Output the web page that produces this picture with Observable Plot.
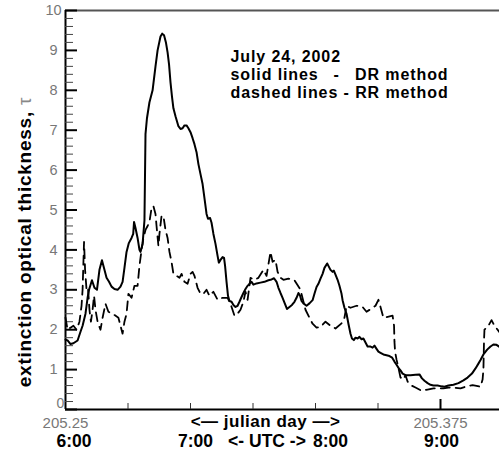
<!DOCTYPE html>
<html><head><meta charset="utf-8">
<script src="https://cdn.jsdelivr.net/npm/d3@7"></script>
<script src="https://cdn.jsdelivr.net/npm/@observablehq/plot@0.6"></script>
<style>body{margin:0;background:#fff} svg{display:block}</style>
</head><body><div id="chart"></div>
<script>
// time in minutes after 06:00 UTC (julian day 205.25), tau = extinction optical thickness
const drTime = [0,1.0,2.4,3.8,5.8,7.2,8.2,9.6,10.6,11.3,12.7,13.9,15.1,16.3,17.5,18.7,19.7,20.9,22.1,23.5,25.0,26.4,27.4,28.3,29.3,30.4,31.7,32.5,32.9,33.6,34.6,35.5,36.0,37.0,37.9,38.4,39.1,40.3,41.8,43.2,44.2,45.6,46.4,47.3,48.2,49.0,49.7,50.4,51.1,51.8,52.8,54.2,55.2,56.2,57.1,58.1,59.0,60.0,61.0,61.9,62.9,63.8,64.8,65.8,66.7,67.7,68.4,69.4,70.1,71.0,72.0,73.0,73.6,74.4,75.4,76.1,76.6,77.3,78.0,78.7,79.7,80.6,81.6,82.6,83.5,84.5,85.4,86.4,87.4,88.3,89.3,90.2,91.7,93.6,95.5,97.4,98.9,100.1,101.3,102.2,103.2,104.2,105.1,106.3,107.5,108.7,109.9,110.9,111.8,112.6,113.3,114.2,115.7,117.1,118.6,119.5,120.5,121.4,122.4,123.4,124.3,125.6,126.2,127.2,128.2,128.8,129.6,130.6,131.5,132.5,133.0,133.9,134.9,135.8,136.8,137.5,138.4,139.2,140.2,141.1,142.1,143.0,144.0,145.0,146.2,147.4,148.3,149.3,150.2,151.2,152.6,154.1,155.5,156.8,157.9,158.9,160.0,160.8,161.8,163.2,165.6,168.0,169.9,171.1,172.3,173.8,175.2,176.6,178.6,180.5,181.9,183.8,186.2,188.6,191.0,193.0,195.1,196.8,198.2,199.2,200.6,202.4,204.0,205.4,206.9,208.3];
const drTau = [1.75,1.73,1.64,1.66,1.73,1.95,2.1,2.4,2.8,3.0,3.24,3.05,3.0,3.5,3.74,3.5,3.3,3.2,3.08,3.02,3.0,3.08,3.2,3.55,3.95,4.17,4.3,4.4,4.7,4.55,4.3,4.0,3.95,4.15,4.74,6.9,7.3,7.7,8.0,8.6,9.0,9.35,9.42,9.38,9.2,8.95,8.65,8.2,7.85,7.55,7.35,7.1,7.03,7.05,7.12,7.12,7.05,6.95,6.8,6.65,6.45,6.15,5.9,5.65,5.3,4.9,4.78,4.8,4.68,4.4,4.15,3.85,3.68,3.75,3.82,3.8,3.6,3.2,2.85,2.72,2.7,2.62,2.57,2.6,2.7,2.82,2.92,3.02,3.1,3.15,3.2,3.13,3.16,3.18,3.2,3.24,3.26,3.29,3.2,3.05,2.92,2.8,2.68,2.52,2.57,2.62,2.7,2.8,2.92,2.85,2.72,2.66,2.6,2.66,2.74,2.9,3.07,3.15,3.28,3.4,3.55,3.66,3.6,3.5,3.45,3.48,3.38,3.25,3.1,2.9,2.74,2.55,2.4,2.15,1.9,1.78,1.74,1.8,1.78,1.82,1.76,1.78,1.68,1.58,1.58,1.55,1.6,1.52,1.45,1.42,1.38,1.36,1.34,1.3,1.2,1.12,1.03,0.98,0.9,0.86,0.86,0.87,0.88,0.78,0.72,0.66,0.62,0.6,0.6,0.58,0.57,0.6,0.62,0.66,0.73,0.8,0.9,1.03,1.15,1.24,1.38,1.5,1.58,1.63,1.62,1.57];
const rrTime = [0,1.0,2.4,3.8,5.3,6.7,7.7,8.2,8.9,9.4,10.1,10.8,11.5,12.2,13.0,13.7,14.4,15.4,16.8,17.8,19.2,20.6,22.6,25.4,26.9,27.4,28.3,29.3,30.2,31.7,33.1,34.6,35.5,36.5,37.4,38.4,39.4,40.3,41.3,42.2,43.2,43.7,44.6,45.1,46.1,47.0,48.0,49.0,49.9,50.9,51.8,53.3,54.7,55.7,57.1,58.6,60.0,61.0,61.9,63.4,64.8,66.2,67.7,69.1,71.0,73.0,75.4,77.8,79.2,81.1,82.6,84.0,85.4,86.4,87.4,88.8,90.7,92.6,95.0,96.5,98.4,99.4,100.8,101.8,103.2,104.6,107.0,109.9,112.8,115.2,117.1,118.6,120.5,122.4,124.8,127.2,129.6,132.5,133.9,134.9,136.8,139.7,142.6,144.5,146.9,148.8,150.2,151.2,152.6,157.0,157.7,157.9,158.2,158.9,159.8,160.8,162.2,163.2,164.2,166.1,168.0,170.9,173.8,176.6,181.4,183.8,186.2,189.6,192.5,195.4,199.2,200.2,200.6,200.9,201.1,203.0,204.5,205.9,208.3];
const rrTau = [2.3,2.0,2.05,2.1,2.0,2.2,2.6,3.0,4.2,3.5,3.0,3.05,2.5,2.2,2.5,2.85,2.5,2.2,2.0,2.3,2.65,2.45,2.4,2.3,2.0,1.9,2.2,2.4,2.9,2.8,3.1,3.1,3.6,4.0,4.3,4.5,4.6,4.7,5.05,5.1,4.9,4.6,4.1,4.4,4.85,4.85,4.5,4.3,3.95,3.7,3.4,3.35,3.3,3.4,3.2,3.15,3.4,3.45,3.35,3.05,2.9,2.9,3.0,2.85,2.95,2.75,2.8,2.8,2.65,2.35,2.4,2.5,2.7,2.95,2.75,3.3,3.25,3.3,3.5,3.35,3.95,3.7,3.75,3.45,3.3,3.25,3.28,3.24,3.0,2.5,2.3,2.15,2.05,2.07,2.2,2.1,2.03,2.16,2.3,2.6,2.55,2.6,2.57,2.45,2.53,2.6,2.75,2.57,2.3,2.35,2.1,1.7,1.45,1.25,1.05,0.8,0.75,0.86,0.7,0.6,0.55,0.47,0.5,0.53,0.53,0.55,0.55,0.53,0.58,0.61,0.57,0.75,1.0,1.75,2.0,2.1,2.24,2.1,1.94];

const yMajor = [1,2,3,4,5,6,7,8,9,10];
const yZero = [0];
const yMinor = d3.range(0, 10.001, 0.2).filter(v => Math.abs(v - Math.round(v)) > 0.01);
const xMinor = [30, 60, 90, 120, 150];
const xMajor = [180];
const dayTicks = [0, 180];
const dayLabels = ["205.25", "205.375"];
const utcLabels = ["6:00", "7:00", "8:00", "9:00"];
const noteDate = ["July 24, 2002"];
const noteSolid = ["solid lines", "-", "DR method"];
const noteDashed = ["dashed lines - RR method"];

const dr = drTime.map((t, i) => ({t, tau: drTau[i]}));
const rr = rrTime.map((t, i) => ({t, tau: rrTau[i]}));

const W = 499, H = 450, ML = 65, MT = 10, MB = 41, MR = 0;
const innerW = W - ML - MR, innerH = H - MT - MB;
const FONT = "'Liberation Sans', Arial, Helvetica, sans-serif";
const note = {frameAnchor: "top-left", lineAnchor: "bottom", fontSize: 16, fontWeight: "bold"};
const utc = {frameAnchor: "bottom", dy: 37, lineAnchor: "bottom", fontSize: 17.5, fontWeight: "bold"};

const svg = Plot.plot({
  width: W, height: H,
  marginLeft: ML, marginTop: MT, marginBottom: MB, marginRight: MR,
  x: {domain: [0, 208.32], axis: null},
  y: {domain: [0, 10], axis: null},
  style: {fontFamily: FONT, background: "white", overflow: "visible"},
  marks: [
    Plot.ruleY([10], {stroke: "#555", strokeWidth: 2}),
    Plot.ruleY([0], {stroke: "black", strokeWidth: 2}),
    Plot.ruleX([0], {stroke: "black", strokeWidth: 2}),
    Plot.tickY(yMinor, {y: d => d, insetRight: innerW - 8, stroke: "#444", strokeWidth: 1}),
    Plot.tickY([0, ...yMajor], {y: d => d, insetRight: innerW - 12, stroke: "black", strokeWidth: 2}),
    Plot.tickX(xMinor, {x: d => d, insetTop: innerH - 6, stroke: "#333", strokeWidth: 1}),
    Plot.tickX(xMajor, {x: d => d, insetTop: innerH - 10, stroke: "black", strokeWidth: 2}),
    Plot.line(rr, {x: "t", y: "tau", stroke: "black", strokeWidth: 1.8, strokeDasharray: "9,6"}),
    Plot.line(dr, {x: "t", y: "tau", stroke: "black", strokeWidth: 2}),
    // y tick labels
    Plot.text(yMajor, {y: d => d, text: d => String(d), frameAnchor: "left", dx: -12, textAnchor: "middle", fill: "#777", fontSize: 14.5}),
    Plot.text(yZero, {y: d => d, text: d => String(d), frameAnchor: "left", dx: -5, dy: -6, textAnchor: "middle", fill: "#777", fontSize: 14}),
    // julian-day labels
    Plot.text(dayTicks, {x: d => d, text: (d, i) => dayLabels[i], frameAnchor: "bottom", dy: 18, lineAnchor: "bottom", fill: "#777", fontSize: 15}),
    // UTC labels
    Plot.text([0], {...utc, x: d => d, text: [utcLabels[0]], dx: 8.5}),
    Plot.text([60], {...utc, x: d => d, text: [utcLabels[1]], dx: 5}),
    Plot.text([120], {...utc, x: d => d, text: [utcLabels[2]], dx: 15}),
    Plot.text([180], {...utc, x: d => d, text: [utcLabels[3]], dx: 1}),
    Plot.text(["<- UTC ->"], {...utc, frameAnchor: "bottom-left", dx: 201.5, textAnchor: "middle"}),
    Plot.text(["<\u2014 julian day \u2014>"], {frameAnchor: "bottom-left", dx: 200, dy: 17, lineAnchor: "bottom", textAnchor: "middle", fontSize: 17, fontWeight: "bold"}),
    // y axis title
    Plot.text(["extinction optical thickness, \u03c4"], {frameAnchor: "left", dx: -35, dy: 32, rotate: -90, lineAnchor: "bottom", textAnchor: "middle", fontSize: 19, fontWeight: "bold"}),
    // annotation
    Plot.text(noteDate, {...note, dx: 165, dy: 51.5, textAnchor: "start"}),
    Plot.text([noteSolid[0]], {...note, dx: 165, dy: 69.5, textAnchor: "start"}),
    Plot.text([noteSolid[1]], {...note, dx: 268, dy: 69.5, textAnchor: "start"}),
    Plot.text([noteSolid[2]], {...note, dx: 383, dy: 69.5, textAnchor: "end"}),
    Plot.text(noteDashed, {...note, dx: 165, dy: 87.5, textAnchor: "start"})
  ]
});

const sel = d3.select(svg).selectAll("text");
sel.filter(function() { return this.textContent.startsWith("extinction"); })
  .each(function() {
    const t = d3.select(this);
    t.text("extinction optical thickness, ");
    t.append("tspan").attr("fill", "#888").attr("font-weight", "normal").text("\u03c4");
    t.attr("letter-spacing", "0.75px");
  });
sel.filter(function() {
    const s = this.textContent;
    return s === noteDate[0] || s === noteSolid[0] || s === noteSolid[2] || s === noteDashed[0];
  })
  .attr("letter-spacing", "0.9px");
sel.filter(function() { return this.textContent.includes("julian"); })
  .attr("letter-spacing", "0.5px");

document.getElementById("chart").appendChild(svg);
</script>
</body></html>
